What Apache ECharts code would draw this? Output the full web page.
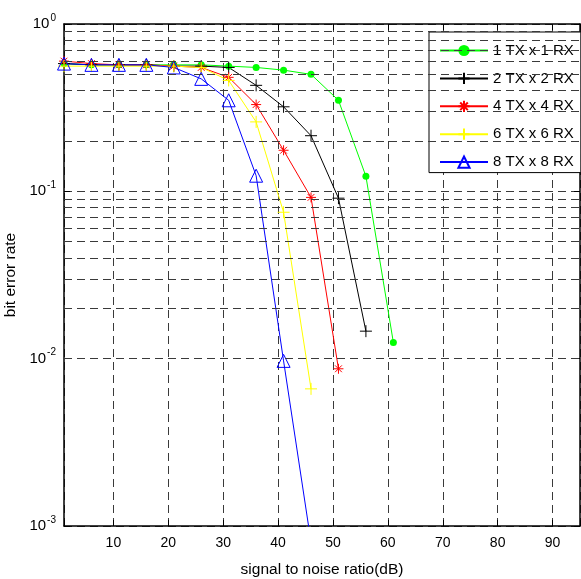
<!DOCTYPE html>
<html><head><meta charset="utf-8">
<script src="https://cdn.jsdelivr.net/npm/echarts@6/dist/echarts.min.js"></script>
<style>html,body{margin:0;padding:0;background:#fff}#c{width:581px;height:579px}</style>
</head><body><div id="c"></div>
<script>
const snr = [1, 6, 11, 16, 21, 26, 31, 36, 41, 46, 51, 56, 61];
const ber1x1 = [0.58, 0.57, 0.57, 0.57, 0.57, 0.57, 0.56, 0.55, 0.53, 0.50, 0.35, 0.123, 0.0125];
const ber2x2 = [0.58, 0.57, 0.57, 0.57, 0.56, 0.56, 0.55, 0.43, 0.32, 0.215, 0.091, 0.0146];
const ber4x4 = [0.60, 0.58, 0.57, 0.57, 0.56, 0.55, 0.48, 0.33, 0.176, 0.092, 0.0087];
const ber6x6 = [0.56, 0.56, 0.56, 0.56, 0.56, 0.55, 0.46, 0.26, 0.075, 0.0066];
const ber8x8 = [0.58, 0.57, 0.57, 0.57, 0.55, 0.47, 0.35, 0.124, 0.0097, 0.0008];
const seriesNames = ['1 TX x 1 RX', '2 TX x 2 RX', '4 TX x 4 RX', '6 TX x 6 RX', '8 TX x 8 RX'];
const yDecades = [0.001, 0.01, 0.1, 1];
const xLabelTicks = [10, 20, 30, 40, 50, 60, 70, 80, 90];

const FONT = '"Liberation Sans", Arial, sans-serif';
const GRID_DASH = { type: [8, 5], color: '#3a3a3a', width: 1 };

const minorY = [];
for (let i = 0; i < yDecades.length - 1; i++) {
  for (let k = 2; k <= 9; k++) minorY.push(+(k * yDecades[i]).toPrecision(3));
}

const PLUS = 'path://M5,0L5,10M0,5L10,5';
const STAR = 'path://M5,0L5,10M0,5L10,5M1.6,1.6L8.4,8.4M8.4,1.6L1.6,8.4';

function pairs(v) { return v.map((y, i) => [snr[i], y]); }

function mkSeries(name, data, color, symbol, size, fill) {
  return {
    name, type: 'line', data: pairs(data), color: color,
    symbol, symbolSize: size, showSymbol: true,
    lineStyle: { color, width: 1 },
    itemStyle: { color: fill, borderColor: color, borderWidth: fill === color ? 0 : 1 },
    emphasis: { disabled: true }, animation: false, clip: true
  };
}

const series = [
  mkSeries(seriesNames[0], ber1x1, '#00ff00', 'circle', 7, '#00ff00'),
  mkSeries(seriesNames[1], ber2x2, '#000000', PLUS, 12, 'transparent'),
  mkSeries(seriesNames[2], ber4x4, '#ff0000', STAR, 10, 'transparent'),
  mkSeries(seriesNames[3], ber6x6, '#ffff00', PLUS, 12, 'transparent'),
  mkSeries(seriesNames[4], ber8x8, '#0000ff', 'triangle', 13, 'transparent'),
  {
    name: 'minorgrid', type: 'line', data: [], silent: true, animation: false,
    markLine: {
      silent: true, symbol: ['none', 'none'], animation: false,
      label: { show: false }, lineStyle: GRID_DASH,
      emphasis: { disabled: true },
      data: minorY.map(v => ({ yAxis: v }))
    }
  }
];

const xAxisCommon = { type: 'value', min: 1, max: 95, splitNumber: 10 };

const chart = echarts.init(document.getElementById('c'), null, { renderer: 'canvas' });
chart.setOption({
  animation: false,
  backgroundColor: '#fff',
  textStyle: { fontFamily: FONT },
  grid: { left: 64, top: 24, right: 1, bottom: 53, containLabel: false, outerBoundsMode: 'none' },
  legend: {
    data: seriesNames, orient: 'vertical', left: 429, top: 32,
    itemWidth: 48, itemHeight: 14, itemGap: 12.9,
    padding: [11, 7, 3, 10],
    borderColor: '#000', borderWidth: 1, backgroundColor: '#fff',
    textStyle: { fontSize: 15, color: '#000', fontFamily: FONT },
    selectedMode: false
  },
  xAxis: [Object.assign({}, xAxisCommon, {
    position: 'bottom',
    name: 'signal to noise ratio(dB)', nameLocation: 'middle', nameGap: 36,
    nameTextStyle: { fontSize: 15.5, color: '#000', fontFamily: FONT },
    axisLine: { show: true, lineStyle: { color: '#000', width: 1.5 } },
    axisTick: { show: true, inside: true, length: 6, lineStyle: { color: '#000' } },
    axisLabel: {
      fontSize: 14, color: '#000', margin: 10, fontFamily: FONT,
      formatter: v => (xLabelTicks.indexOf(v) >= 0 ? String(v) : '')
    },
    splitLine: { show: true, lineStyle: GRID_DASH }
  }), Object.assign({}, xAxisCommon, {
    position: 'top',
    axisLine: { show: true, lineStyle: { color: '#000', width: 1.5 } },
    axisTick: { show: true, inside: true, length: 6, lineStyle: { color: '#000' } },
    axisLabel: { show: false }, splitLine: { show: false }
  })],
  yAxis: [{
    type: 'log', logBase: 10, min: yDecades[0], max: yDecades[yDecades.length - 1], position: 'left',
    name: 'bit error rate', nameLocation: 'middle', nameGap: 45,
    nameTextStyle: { fontSize: 15.5, color: '#000', fontFamily: FONT },
    axisLine: { show: true, lineStyle: { color: '#000', width: 1.5 } },
    axisTick: { show: true, inside: true, length: 6, lineStyle: { color: '#000' } },
    axisLabel: {
      color: '#000', margin: 8, fontFamily: FONT,
      formatter: v => '{b|10}{s|' + Math.round(Math.log10(v)) + '}',
      rich: {
        b: { fontSize: 15, fontFamily: FONT, color: '#000' },
        s: { fontSize: 10, fontFamily: FONT, color: '#000', padding: [0, 0, 12, 1] }
      }
    },
    splitLine: { show: true, lineStyle: GRID_DASH }
  }, {
    type: 'log', logBase: 10, min: yDecades[0], max: yDecades[yDecades.length - 1], position: 'right',
    axisLine: { show: true, lineStyle: { color: '#000', width: 1.5 } },
    axisTick: { show: true, inside: true, length: 6, lineStyle: { color: '#000' } },
    axisLabel: { show: false }, splitLine: { show: false }
  }],
  series
});
</script></body></html>
